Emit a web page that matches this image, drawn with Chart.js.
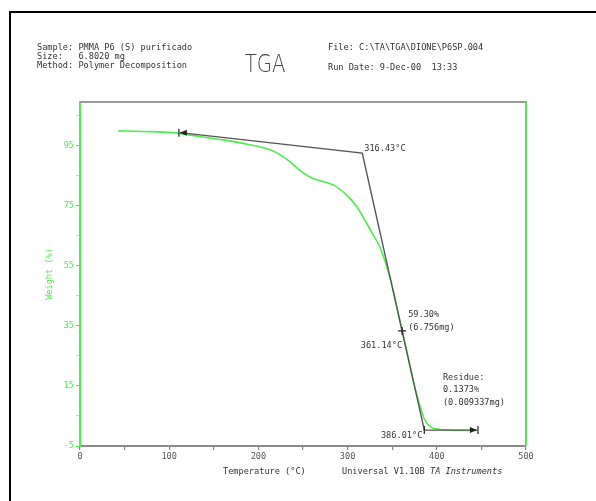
<!DOCTYPE html>
<html>
<head>
<meta charset="utf-8">
<script src="https://cdn.jsdelivr.net/npm/chart.js@4.4.1/dist/chart.umd.min.js"></script>
<style>
  html, body { margin: 0; padding: 0; background: #fff; }
  #wrap { width: 596px; height: 501px; position: relative; }
</style>
</head>
<body>
<div id="wrap"><canvas id="tgaChart" width="596" height="501"></canvas></div>
<script>
// TGA curve (temperature in °C, weight in %)
const temperature = [43, 70, 104, 134, 160, 190, 213, 224, 235, 250, 260, 269, 284, 299, 310, 321, 330, 336, 348, 356, 361.14, 368, 375, 381, 386, 391, 396, 404, 415, 430, 445];
const weight      = [99.9, 99.7, 99.3, 98.0, 96.9, 95.3, 93.6, 92.0, 89.7, 85.9, 84.2, 83.3, 81.9, 78.5, 74.8, 69.3, 64.6, 61.3, 50.5, 40.2, 33.3, 24.2, 15.0, 8.5, 4.0, 1.8, 0.9, 0.5, 0.3, 0.2, 0.15];

// onset construction lines (|< start, onset 316.43, end 386.01, residue >|)
const tangentT = [112, 316.43, 386.01, 445];
const tangentW = [99.3, 92.5, 0.3, 0.3];
const inflection = { t: 361.14, w: 33.3 };

const xTicks = [0, 50, 100, 150, 200, 250, 300, 350, 400, 450, 500];
const xLabels = [0, 100, 200, 300, 400, 500];
const yTicks = [-5, 5, 15, 25, 35, 45, 55, 65, 75, 85, 95, 105];
const yLabels = [-5, 15, 35, 55, 75, 95];

const GREEN = '#4cee4c';
const MONO = '8.6px "DejaVu Sans Mono"';
const INK = '#333';

const tgaDecor = {
    id: 'tgaDecor',
    beforeDraw(chart) {
        const ctx = chart.ctx;
        ctx.save();
        ctx.fillStyle = '#fff';
        ctx.fillRect(0, 0, chart.width, chart.height);
        // outer frame (open at right / bottom)
        ctx.strokeStyle = '#000';
        ctx.lineWidth = 2;
        ctx.beginPath();
        ctx.moveTo(10, chart.height);
        ctx.lineTo(10, 12);
        ctx.lineTo(chart.width, 12);
        ctx.stroke();
        ctx.restore();
    },
    afterDraw(chart) {
        const ctx = chart.ctx;
        const a = chart.chartArea;
        const xs = chart.scales.x, ys = chart.scales.y;
        ctx.save();

        // top & right frame of the plot
        ctx.lineWidth = 2;
        ctx.strokeStyle = '#9a9a9a';
        ctx.beginPath(); ctx.moveTo(a.left, a.top); ctx.lineTo(a.right + 1, a.top); ctx.stroke();
        ctx.strokeStyle = GREEN;
        ctx.beginPath(); ctx.moveTo(a.right, a.top); ctx.lineTo(a.right, a.bottom); ctx.stroke();

        // header
        ctx.fillStyle = INK;
        ctx.font = MONO;
        ctx.textBaseline = 'middle';
        ctx.textAlign = 'left';
        ctx.fillText('Sample: PMMA P6 (S) purificado', 37, 48);
        ctx.fillText('Size:   6.8020 mg', 37, 57);
        ctx.fillText('Method: Polymer Decomposition', 37, 66);
        ctx.fillText('File: C:\\TA\\TGA\\DIONE\\P6SP.004', 328, 48);
        ctx.fillText('Run Date: 9-Dec-00  13:33', 328, 68);
        ctx.save();
        ctx.translate(265, 66);
        ctx.scale(0.82, 1);
        ctx.font = '300 24px "DejaVu Sans"';
        ctx.fillStyle = '#444';
        ctx.textAlign = 'center';
        ctx.fillText('TGA', 0, 0);
        ctx.restore();

        // axis titles
        ctx.fillStyle = INK;
        ctx.fillText('Temperature (°C)', 223, 472);
        const uni = 'Universal V1.10B ';
        ctx.fillText(uni, 342, 472);
        const w = ctx.measureText(uni).width;
        ctx.font = 'italic ' + MONO;
        ctx.fillText('TA Instruments', 342 + w, 472);
        ctx.save();
        ctx.translate(50, (a.top + a.bottom) / 2);
        ctx.rotate(-Math.PI / 2);
        ctx.font = MONO;
        ctx.fillStyle = GREEN;
        ctx.textAlign = 'center';
        ctx.fillText('Weight (%)', 0, 0);
        ctx.restore();

        // construction markers
        const px = i => xs.getPixelForValue(tangentT[i]);
        const py = i => ys.getPixelForValue(tangentW[i]);
        ctx.strokeStyle = '#222';
        ctx.fillStyle = '#222';
        ctx.lineWidth = 1.2;
        // |< at start
        let x0 = px(0), y0 = py(0);
        ctx.beginPath(); ctx.moveTo(x0 - 1, y0 - 4); ctx.lineTo(x0 - 1, y0 + 4); ctx.stroke();
        ctx.beginPath(); ctx.moveTo(x0, y0); ctx.lineTo(x0 + 7, y0 - 3); ctx.lineTo(x0 + 7, y0 + 3); ctx.closePath(); ctx.fill();
        // >| at residue end
        let x3 = px(3), y3 = py(3);
        ctx.beginPath(); ctx.moveTo(x3 + 1, y3 - 4); ctx.lineTo(x3 + 1, y3 + 4); ctx.stroke();
        ctx.beginPath(); ctx.moveTo(x3, y3); ctx.lineTo(x3 - 7, y3 - 3); ctx.lineTo(x3 - 7, y3 + 3); ctx.closePath(); ctx.fill();
        // | at end of onset
        let x2 = px(2), y2 = py(2);
        ctx.beginPath(); ctx.moveTo(x2, y2 - 4); ctx.lineTo(x2, y2 + 4); ctx.stroke();
        // + at inflection
        const ix = xs.getPixelForValue(inflection.t), iy = ys.getPixelForValue(inflection.w);
        ctx.beginPath();
        ctx.moveTo(ix - 4, iy); ctx.lineTo(ix + 4, iy);
        ctx.moveTo(ix, iy - 4); ctx.lineTo(ix, iy + 4);
        ctx.stroke();

        // annotation texts
        ctx.fillStyle = INK;
        ctx.font = MONO;
        ctx.textAlign = 'left';
        const x1 = px(1), y1 = py(1);
        ctx.fillText('316.43°C', x1 + 2, y1 - 4);
        ctx.fillText('59.30%', ix + 6, iy - 16);
        ctx.fillText('(6.756mg)', ix + 6, iy - 3);
        ctx.fillText('Residue:', x3 - 34, y3 - 52);
        ctx.fillText('0.1373%', x3 - 34, y3 - 40);
        ctx.fillText('(0.009337mg)', x3 - 34, y3 - 27);
        ctx.textAlign = 'right';
        ctx.fillText('361.14°C', ix, iy + 15);
        ctx.fillText('386.01°C', x2 - 2, y2 + 6);
        ctx.restore();
    }
};

const ctx = document.getElementById('tgaChart').getContext('2d');
const tgaChart = new Chart(ctx, {
    type: 'scatter',
    data: {
        datasets: [
            {
                label: 'Weight',
                data: temperature.map((t, i) => ({ x: t, y: weight[i] })),
                showLine: true,
                borderColor: GREEN,
                borderWidth: 1.6,
                pointRadius: 0,
                cubicInterpolationMode: 'monotone',
                order: 2
            },
            {
                label: 'Onset',
                data: tangentT.map((t, i) => ({ x: t, y: tangentW[i] })),
                showLine: true,
                borderColor: '#555',
                borderWidth: 1.4,
                pointRadius: 0,
                tension: 0,
                order: 1
            }
        ]
    },
    options: {
        responsive: false,
        animation: false,
        layout: { padding: { top: 102, right: 70, left: 0, bottom: 0 } },
        plugins: {
            legend: { display: false },
            tooltip: { enabled: false },
            title: { display: false }
        },
        scales: {
            x: {
                type: 'linear',
                min: 0,
                max: 500,
                afterBuildTicks: s => { s.ticks = xTicks.map(v => ({ value: v })); },
                afterFit: s => { s.height = 55; },
                ticks: {
                    autoSkip: false,
                    maxRotation: 0,
                    padding: 2,
                    color: '#555',
                    font: { family: 'DejaVu Sans Mono', size: 8.6 },
                    callback: v => xLabels.includes(v) ? String(v) : ''
                },
                grid: { drawOnChartArea: false, drawTicks: true, tickLength: 4, color: '#888', lineWidth: 1.2 },
                border: { display: true, color: '#8a8a8a', width: 2 }
            },
            y: {
                type: 'linear',
                min: -5,
                max: 109.5,
                afterBuildTicks: s => { s.ticks = yTicks.map(v => ({ value: v })); },
                afterFit: s => { s.width = 80; },
                ticks: {
                    autoSkip: false,
                    padding: 2,
                    color: GREEN,
                    font: { family: 'DejaVu Sans Mono', size: 8.6 },
                    callback: v => yLabels.includes(v) ? String(v) : ''
                },
                grid: {
                    drawOnChartArea: false, drawTicks: true,
                    tickLength: 4,
                    color: c => yLabels.includes(c.tick && c.tick.value) ? GREEN : 'rgba(76,238,76,0.6)'
                },
                border: { display: true, color: GREEN, width: 2 }
            }
        }
    },
    plugins: [tgaDecor]
});
</script>
</body>
</html>
